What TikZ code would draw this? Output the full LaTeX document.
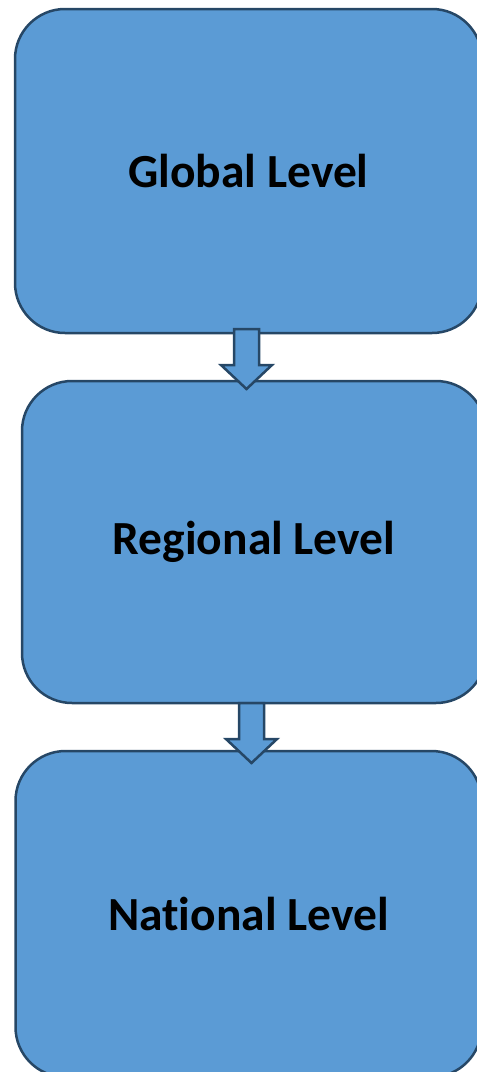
\documentclass[tikz,border=0pt]{standalone}
\usepackage{fontspec}
\setmainfont[Ligatures=NoCommon]{Carlito}
\usetikzlibrary{calc}
\definecolor{levelfill}{HTML}{5B9BD5}
\definecolor{levelline}{HTML}{264766}
\begin{document}
\begin{tikzpicture}[x=1pt, y=1pt]
\tikzstyle{level} = [rectangle, rounded corners=50pt, fill=levelfill, draw=levelline, line width=2.5pt, inner sep=0pt, font=\fontsize{47.5}{56}\selectfont\bfseries]
\tikzstyle{blockarrow} = [fill=levelfill, draw=levelline, line width=2.5pt, line join=miter]
\useasboundingbox (0,0) rectangle (477,-1072);
\node[level, minimum width=467pt, minimum height=324pt] (global) at (248.5,-171) {Global Level};
\node[level, minimum width=464pt, minimum height=322pt] (regional) at (254,-542) {Regional Level};
\node[level, minimum width=466pt, minimum height=326pt] (national) at (248.5,-914) {National Level};
% block arrows between the levels
\coordinate (g-out) at (246.5,-329);
\coordinate (r-in) at (246.5,-389);
\coordinate (r-out) at (251.5,-703);
\coordinate (n-in) at (251.5,-763);
\foreach \a/\b in {g-out/r-in, r-out/n-in}
  \draw[blockarrow] ($(\a)+(-12.5,0)$) -- ($(\a)+(12.5,0)$) -- ($(\b)+(12.5,24)$)
    -- ($(\b)+(25.5,24)$) -- (\b) -- ($(\b)+(-25.5,24)$) -- ($(\b)+(-12.5,24)$) -- cycle;
\end{tikzpicture}
\end{document}
